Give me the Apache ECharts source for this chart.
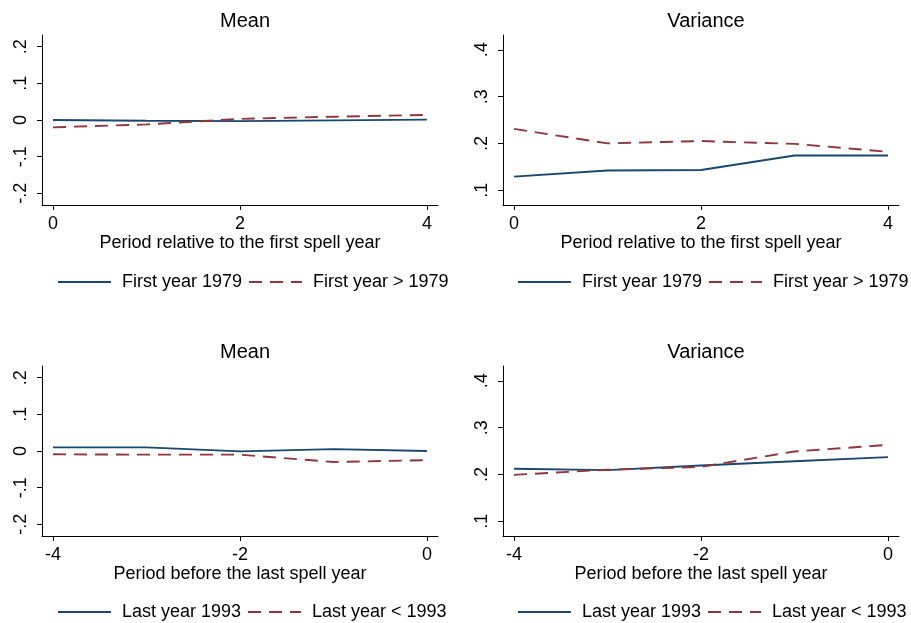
<!DOCTYPE html>
<html>
<head>
<meta charset="utf-8">
<script src="https://cdn.jsdelivr.net/npm/echarts@6/dist/echarts.min.js"></script>
<style>
html,body{margin:0;padding:0;background:#fff;}
#main{width:911px;height:623px;}
</style>
</head>
<body>
<div id="main"></div>
<script>
// ---- data ----
const xFirst = [0, 1, 2, 3, 4];
const xLast = [-4, -3, -2, -1, 0];
const meanFirst1979 = [0.000, -0.002, -0.003, -0.001, 0.001];
const meanFirstAfter = [-0.020, -0.012, 0.003, 0.009, 0.014];
const varFirst1979 = [0.129, 0.142, 0.143, 0.174, 0.174];
const varFirstAfter = [0.231, 0.200, 0.205, 0.199, 0.182];
const meanLast1993 = [0.010, 0.010, -0.001, 0.005, 0.000];
const meanLastBefore = [-0.009, -0.010, -0.010, -0.030, -0.025];
const varLast1993 = [0.212, 0.209, 0.219, 0.228, 0.237];
const varLastBefore = [0.199, 0.210, 0.216, 0.249, 0.263];
const meanTicks = [-0.2, -0.1, 0, 0.1, 0.2];
const varTicks = [0.1, 0.2, 0.3, 0.4];
const firstTicks = [0, 2, 4];
const lastTicks = [-4, -2, 0];
const panelTitles = ['Mean', 'Variance', 'Mean', 'Variance'];
const xNames = ['Period relative to the first spell year', 'Period before the last spell year'];
const legendFirst = ['First year 1979', 'First year > 1979'];
const legendLast = ['Last year 1993', 'Last year < 1993'];

const FONT = 'Liberation Sans, Arial, sans-serif';
const BLUE = '#1a476f';
const RED = '#90353b';
const FS = 18;

function fmt(v) {
  let s = String(Math.round(v * 10) / 10);
  s = s.replace(/^0\./, '.').replace(/^-0\./, '-.');
  return s;
}
function zip(xs, ys) { return xs.map((x, i) => [x, ys[i]]); }

const grids = [
  {left: 42, top: 35, width: 396, height: 170},
  {left: 503, top: 35, width: 396, height: 170},
  {left: 42, top: 366, width: 396, height: 170},
  {left: 503, top: 366, width: 396, height: 170}
];

function xAxisFor(i, ticks, name) {
  const lo = ticks[0], hi = ticks[ticks.length - 1];
  const pad = (hi - lo) * 0.0295;
  return {
    type: 'value', gridIndex: i, min: lo - pad, max: hi + pad,
    name: name, nameLocation: 'middle', nameGap: 29,
    nameTextStyle: {fontFamily: FONT, fontSize: FS, color: '#000'},
    axisLine: {show: true, onZero: false, lineStyle: {color: '#000', width: 1}},
    axisTick: {show: true, customValues: ticks, length: 5, lineStyle: {color: '#000'}},
    axisLabel: {customValues: ticks, formatter: v => String(v), fontFamily: FONT, fontSize: FS, color: '#000', margin: 10},
    splitLine: {show: false}
  };
}
function yAxisFor(i, ticks, step) {
  const lo = ticks[0], hi = ticks[ticks.length - 1];
  const pad = step * 0.318;
  return {
    type: 'value', gridIndex: i, min: lo - pad, max: hi + pad,
    axisLine: {show: true, onZero: false, lineStyle: {color: '#000', width: 1}},
    axisTick: {show: true, customValues: ticks, length: 5, lineStyle: {color: '#000'}},
    axisLabel: {customValues: ticks, formatter: fmt, rotate: 90, fontFamily: FONT, fontSize: FS, color: '#000', margin: 12},
    splitLine: {show: false}
  };
}
function lineSeries(name, i, xs, ys, dashed) {
  return {
    name: name, type: 'line', xAxisIndex: i, yAxisIndex: i,
    data: zip(xs, ys), symbol: 'none', showSymbol: false, animation: false,
    lineStyle: {color: dashed ? RED : BLUE, width: 1.9, type: dashed ? [13, 8] : 'solid'},
    itemStyle: {color: dashed ? RED : BLUE}
  };
}
function legendFor(names, left, top) {
  return {
    data: names, left: left, top: top, width: 450, padding: 0,
    itemWidth: 53, itemHeight: 14, itemGap: 6,
    selectedMode: false,
    itemStyle: {opacity: 0, borderWidth: 0},
    lineStyle: {width: 1.9},
    textStyle: {fontFamily: FONT, fontSize: FS, color: '#000', padding: [0, 0, 0, 6]}
  };
}

const option = {
  backgroundColor: '#fff',
  animation: false,
  title: panelTitles.map((t, i) => ({
    text: t, left: i % 2 === 0 ? 240 : 701, top: i < 2 ? 6 : 337, textAlign: 'center',
    textStyle: {fontFamily: FONT, fontSize: 20, fontWeight: 'normal', color: '#000'}
  })),
  grid: grids,
  xAxis: [
    xAxisFor(0, firstTicks, xNames[0]),
    xAxisFor(1, firstTicks, xNames[0]),
    xAxisFor(2, lastTicks, xNames[1]),
    xAxisFor(3, lastTicks, xNames[1])
  ],
  yAxis: [
    yAxisFor(0, meanTicks, 0.1),
    yAxisFor(1, varTicks, 0.1),
    yAxisFor(2, meanTicks, 0.1),
    yAxisFor(3, varTicks, 0.1)
  ],
  legend: [
    legendFor(legendFirst, 57, 273),
    legendFor(legendFirst, 517, 273),
    legendFor(legendLast, 57, 603),
    legendFor(legendLast, 517, 603)
  ],
  series: [
    lineSeries(legendFirst[0], 0, xFirst, meanFirst1979, false),
    lineSeries(legendFirst[1], 0, xFirst, meanFirstAfter, true),
    lineSeries(legendFirst[0], 1, xFirst, varFirst1979, false),
    lineSeries(legendFirst[1], 1, xFirst, varFirstAfter, true),
    lineSeries(legendLast[0], 2, xLast, meanLast1993, false),
    lineSeries(legendLast[1], 2, xLast, meanLastBefore, true),
    lineSeries(legendLast[0], 3, xLast, varLast1993, false),
    lineSeries(legendLast[1], 3, xLast, varLastBefore, true)
  ]
};
const chart = echarts.init(document.getElementById('main'), null, {renderer: 'canvas'});
chart.setOption(option);
</script>
</body>
</html>
